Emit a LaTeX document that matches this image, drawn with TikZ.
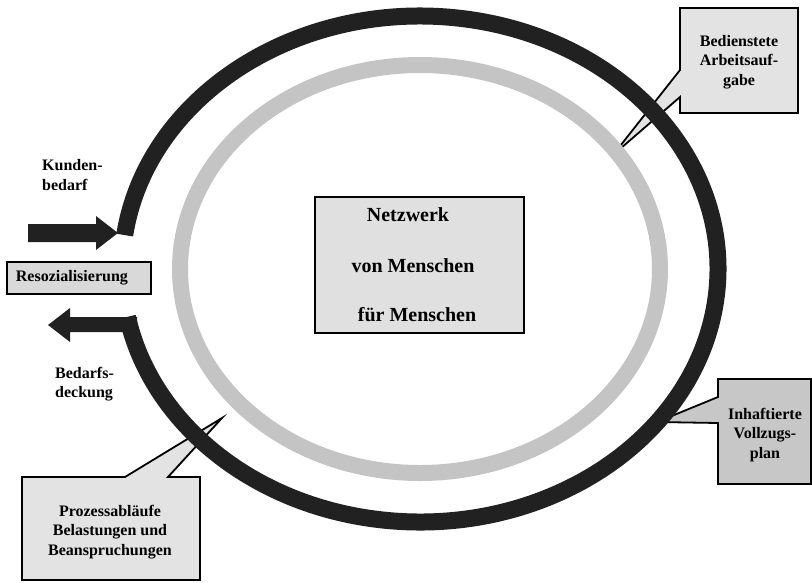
\documentclass[tikz,border=0pt]{standalone}
\usepackage{fontspec}
\setmainfont{Liberation Serif}
\usetikzlibrary{positioning, calc}

\begin{document}
\begin{tikzpicture}[x=1pt, y=-1pt,
    ring/.style={line width=17pt, draw=black!87},
    grayring/.style={line width=16pt, draw=black!23},
    callout/.style={draw=black, line width=1.8pt, fill=black!11, line join=miter},
    lbl/.style={font=\fontsize{16}{19.5}\selectfont\bfseries, align=center, inner sep=0pt},
    big/.style={font=\fontsize{20}{24}\selectfont\bfseries, inner sep=0pt}]
\useasboundingbox (0,0) rectangle (812,582);

% Callouts (tails run under the rings)
\draw[callout] (680,8) -- (798,8) -- (798,113) -- (680,113) -- (680,97) -- (613,155) -- (680,70) -- cycle;
\draw[callout, fill=black!22] (718,379) -- (811,379) -- (811,484) -- (718,484) -- (718,423) -- (657,422) -- (718,397) -- cycle;
\draw[callout] (22,477) -- (125,477) -- (222,418) -- (168,477) -- (200,477) -- (200,580) -- (22,580) -- cycle;

% Rings
\draw[grayring] (420,269) ellipse [x radius=240, y radius=204];
\draw[ring] ({420+298*cos(187.7)},{269+253*sin(187.7)}) arc[start angle=187.7, end angle=529.1, x radius=298, y radius=253];

% In and out arrows
\fill[black!87] (28,224) -- (96,224) -- (96,216) -- (118,233) -- (96,250) -- (96,242) -- (28,242) -- cycle;
\fill[black!87] (137,317) -- (70,317) -- (70,308) -- (48,325) -- (70,342) -- (70,332) -- (137,332) -- cycle;

% Labels
\node[lbl, align=left, anchor=west] (kunde) at (42,175) {Kunden-\\bedarf};
\node[lbl, align=left, anchor=west] (deckung) at (55,384) {Bedarfs-\\deckung};
\node[draw, line width=1.8pt, fill=black!15, anchor=west, inner xsep=9pt, inner ysep=0pt,
      text width=126pt, minimum height=32pt, align=left,
      font=\fontsize{16}{19.5}\selectfont\bfseries] (reso) at (6,278) {Resozialisierung};

% Centre box
\node[draw, line width=1.8pt, fill=black!12, minimum width=209pt, minimum height=136pt] (netz) at (419.5,265) {};
\node[big] (netz1) at (408,215) {Netzwerk};
\node[big] (netz2) at (413,266) {von Menschen};
\node[big] (netz3) at (417,315) {für Menschen};

% Callout texts
\node[lbl] (bed) at (739,62) {Bedienstete\\Arbeitsauf-\\gabe};
\node[lbl] (inh) at (765,435) {Inhaftierte\\Vollzugs-\\plan};
\node[lbl] (proz) at (110,532) {Prozessabläufe\\Belastungen und\\Beanspruchungen};
\end{tikzpicture}
\end{document}
